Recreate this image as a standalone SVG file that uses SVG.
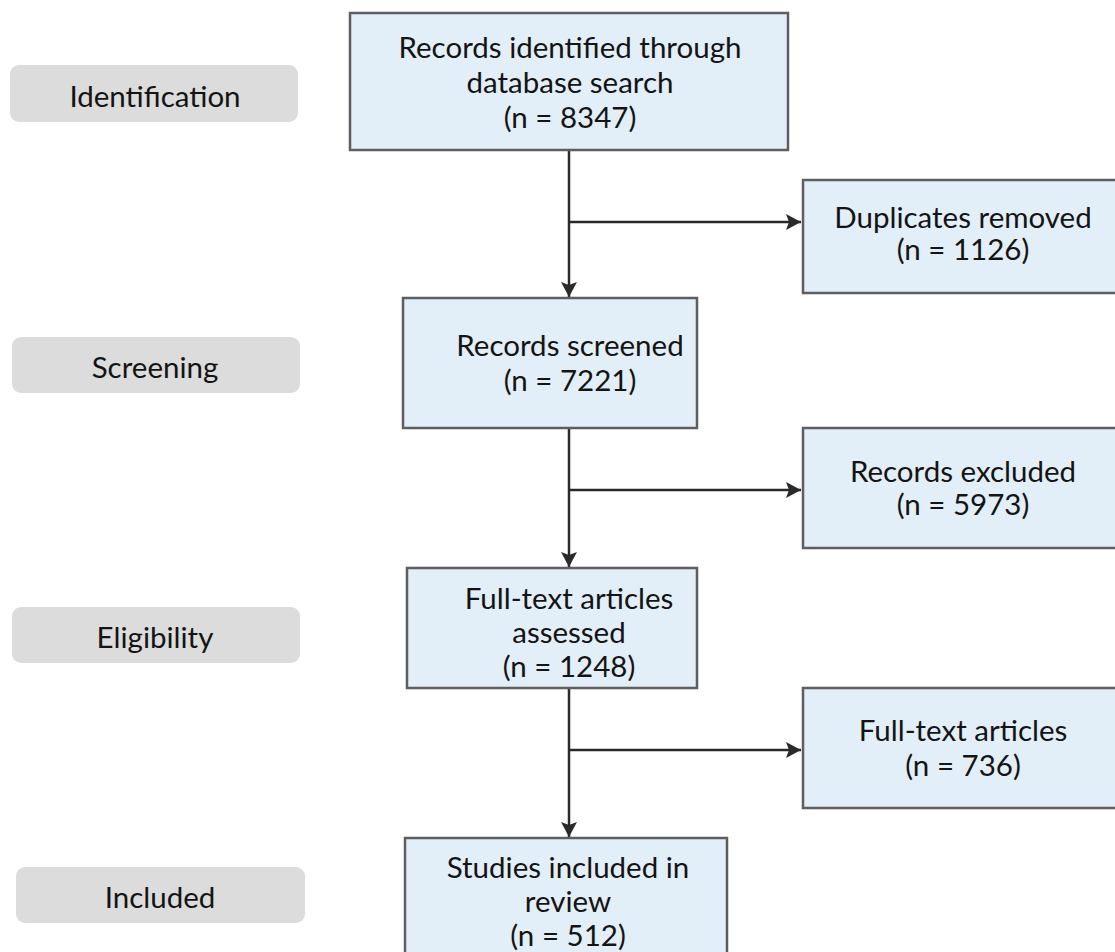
<svg xmlns="http://www.w3.org/2000/svg" width="1115" height="952" viewBox="0 0 1115 952">
<style>
.box{fill:#e2eef8;stroke:#5e5e5e;stroke-width:2.5}
.lab{fill:#dcdcdc;stroke:none}
.t{font-family:Lato,"Open Sans","Liberation Sans",sans-serif;font-size:29.5px;fill:#141414;text-anchor:middle}
.c{fill:none;stroke:#2a2a2a;stroke-width:2.5}
</style>
<defs>
<marker id="ah" viewBox="0 0 15 16" refX="15" refY="8" markerWidth="15" markerHeight="16" markerUnits="userSpaceOnUse" orient="auto">
<path d="M0,0 L15,8 L0,16 L3,8 z" fill="#2a2a2a"/>
</marker>
</defs>
<rect width="1115" height="952" fill="#ffffff"/>
<g id="stage-identification"><rect class="lab" x="10" y="65" width="288" height="57" rx="9"/><text class="t" x="155" y="107">Identification</text></g>
<g id="stage-screening"><rect class="lab" x="12" y="337" width="288" height="56" rx="9"/><text class="t" x="155" y="378">Screening</text></g>
<g id="stage-eligibility"><rect class="lab" x="12" y="607" width="288" height="56" rx="9"/><text class="t" x="155" y="648">Eligibility</text></g>
<g id="stage-included"><rect class="lab" x="16" y="867" width="289" height="56" rx="9"/><text class="t" x="160" y="908">Included</text></g>
<g id="connectors">
<path class="c" d="M569,150 V297" marker-end="url(#ah)"/>
<path class="c" d="M569,222 H801" marker-end="url(#ah)"/>
<path class="c" d="M569,428 V567" marker-end="url(#ah)"/>
<path class="c" d="M569,490 H801" marker-end="url(#ah)"/>
<path class="c" d="M569,688 V837" marker-end="url(#ah)"/>
<path class="c" d="M569,750 H801" marker-end="url(#ah)"/>
</g>
<g id="records-identified"><rect class="box" x="350" y="13" width="438" height="137"/>
<text class="t" x="570" y="58">Records identified through</text><text class="t" x="570" y="93">database search</text><text class="t" x="570" y="128">(n = 8347)</text></g>
<g id="duplicates-removed"><rect class="box" x="803" y="180" width="320" height="113"/>
<text class="t" x="963" y="228">Duplicates removed</text><text class="t" x="963" y="260">(n = 1126)</text></g>
<g id="records-screened"><rect class="box" x="403" y="298" width="294" height="130"/>
<text class="t" x="570" y="356">Records screened</text><text class="t" x="570" y="391">(n = 7221)</text></g>
<g id="records-excluded"><rect class="box" x="803" y="428" width="320" height="120"/>
<text class="t" x="963" y="482">Records excluded</text><text class="t" x="963" y="515">(n = 5973)</text></g>
<g id="fulltext-assessed"><rect class="box" x="407" y="568" width="290" height="120"/>
<text class="t" x="569" y="609">Full-text articles</text><text class="t" x="569" y="643">assessed</text><text class="t" x="569" y="677">(n = 1248)</text></g>
<g id="fulltext-excluded"><rect class="box" x="803" y="688" width="320" height="120"/>
<text class="t" x="963" y="741">Full-text articles</text><text class="t" x="963" y="776">(n = 736)</text></g>
<g id="studies-included"><rect class="box" x="405" y="838" width="322" height="130"/>
<text class="t" x="568" y="878">Studies included in</text><text class="t" x="568" y="912">review</text><text class="t" x="568" y="946">(n = 512)</text></g>
</svg>
